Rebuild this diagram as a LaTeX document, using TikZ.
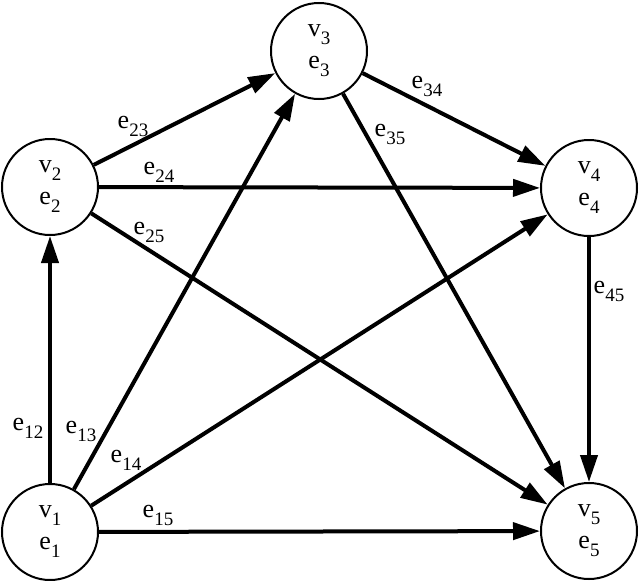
\documentclass[tikz,border=0pt]{standalone}
\usepackage{fontspec}
\setmainfont{Liberation Serif}
\usetikzlibrary{arrows.meta}
\newcommand{\sbs}[1]{\raisebox{-8pt}{\fontsize{19}{19}\selectfont #1}}
\tikzset{
  vert/.style={circle, draw, line width=2pt, minimum size=96pt, inner sep=0pt,
    align=center, font=\fontsize{26}{26}\selectfont},
  edge/.style={line width=4pt, -{Triangle[length=27pt,width=17pt]}},
  lab/.style={inner sep=0pt, font=\fontsize{26}{26}\selectfont},
}
\begin{document}
\begin{tikzpicture}[x=1pt,y=-1pt]
\useasboundingbox (0,0) rectangle (640,581);
\node[vert] (v1) at (50,532) {v\sbs{1}\\[6pt]e\sbs{1}};
\node[vert] (v2) at (50,187) {v\sbs{2}\\[6pt]e\sbs{2}};
\node[vert] (v3) at (319,51) {v\sbs{3}\\[6pt]e\sbs{3}};
\node[vert] (v4) at (589,188) {v\sbs{4}\\[6pt]e\sbs{4}};
\node[vert] (v5) at (589,531) {v\sbs{5}\\[6pt]e\sbs{5}};
\draw[edge] (v1) -- (v2);
\draw[edge] (v1) -- (v3);
\draw[edge] (v1) -- (v4);
\draw[edge] (v1) -- (v5);
\draw[edge] (v2) -- (v3);
\draw[edge] (v2) -- (v4);
\draw[edge] (v2) -- (v5);
\draw[edge] (v3) -- (v4);
\draw[edge] (v3) -- (v5);
\draw[edge] (v4) -- (v5);
\node[lab] (l12) at (28,428) {e\sbs{12}};
\node[lab] (l13) at (81,431) {e\sbs{13}};
\node[lab] (l14) at (126,460) {e\sbs{14}};
\node[lab] (l15) at (158,515) {e\sbs{15}};
\node[lab] (l23) at (133,126) {e\sbs{23}};
\node[lab] (l24) at (159,172) {e\sbs{24}};
\node[lab] (l25) at (149,232) {e\sbs{25}};
\node[lab] (l34) at (427,86) {e\sbs{34}};
\node[lab] (l35) at (390,134) {e\sbs{35}};
\node[lab] (l45) at (609,291) {e\sbs{45}};
\end{tikzpicture}
\end{document}
